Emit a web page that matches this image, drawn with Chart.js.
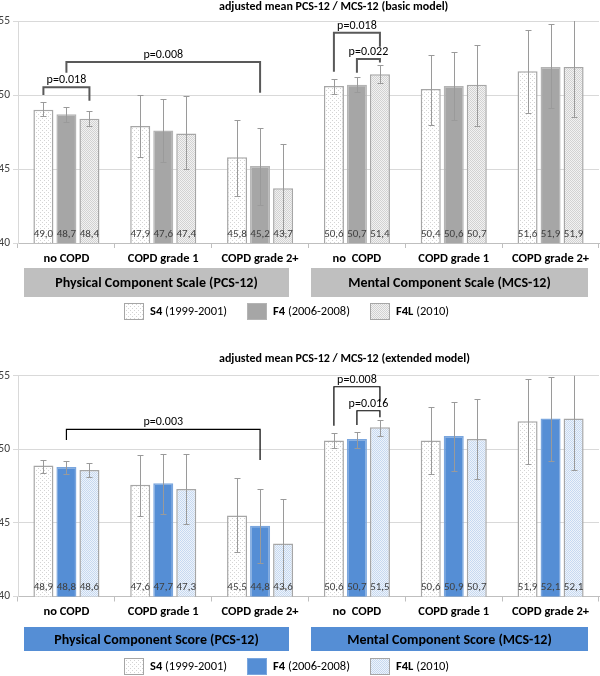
<!DOCTYPE html>
<html>
<head>
<meta charset="utf-8">
<script src="https://cdn.jsdelivr.net/npm/chart.js@4.4.0/dist/chart.umd.min.js"></script>
<style>
    html, body { margin:0; padding:0; background:#fff; }
    #wrap { position:relative; width:600px; height:676px; }
    .panel { position:absolute; left:0; width:600px; }
    #p1 { top:0; height:330px; }
    #p2 { top:330px; height:346px; }
</style>
</head>
<body>
<div id="wrap">
    <div class="panel" id="p1"><canvas id="cnv-basic" width="600" height="330"></canvas></div>
    <div class="panel" id="p2"><canvas id="cnv-extended" width="600" height="346"></canvas></div>
</div>
<script>
//--------------------------------------
// Data
//--------------------------------------
var categories = ['no COPD', 'COPD grade 1', 'COPD grade 2+', 'no  COPD', 'COPD grade 1', 'COPD grade 2+'];
var seriesNames = ['S4', 'F4', 'F4L'];
var seriesYears = ['(1999-2001)', '(2006-2008)', '(2010)'];
var yTicks = [40, 45, 50, 55];

// basic model
var s4Basic  = [49.0, 47.9, 45.8, 50.6, 50.4, 51.6];
var f4Basic  = [48.7, 47.6, 45.2, 50.7, 50.6, 51.9];
var f4lBasic = [48.4, 47.4, 43.7, 51.4, 50.7, 51.9];
var s4BasicLo  = [48.6, 45.8, 43.2, 50.1, 48.0, 48.8];
var s4BasicHi  = [49.5, 50.0, 48.3, 51.1, 52.7, 54.4];
var f4BasicLo  = [48.2, 45.5, 42.6, 50.2, 48.3, 49.1];
var f4BasicHi  = [49.2, 49.7, 47.8, 51.2, 52.9, 54.8];
var f4lBasicLo = [47.9, 45.0, 40.7, 50.8, 47.9, 48.5];
var f4lBasicHi = [48.9, 49.9, 46.7, 52.0, 53.4, 55.3];

// extended model
var s4Ext  = [48.9, 47.6, 45.5, 50.6, 50.6, 51.9];
var f4Ext  = [48.8, 47.7, 44.8, 50.7, 50.9, 52.1];
var f4lExt = [48.6, 47.3, 43.6, 51.5, 50.7, 52.1];
var s4ExtLo  = [48.4, 45.5, 43.0, 50.1, 48.3, 49.0];
var s4ExtHi  = [49.3, 49.6, 48.05, 51.1, 52.9, 54.8];
var f4ExtLo  = [48.3, 45.6, 42.25, 50.1, 48.5, 49.2];
var f4ExtHi  = [49.2, 49.7, 47.3, 51.2, 53.2, 54.9];
var f4lExtLo = [48.1, 44.9, 40.6, 50.9, 48.0, 48.6];
var f4lExtHi = [49.1, 49.7, 46.6, 52.0, 53.4, 55.6];

// significance brackets: [category, series] ends, heights in score units
var bracketsBasic = [
    {from:[0, 0], to:[0, 2], top:50.52, left:50.0, right:49.61, label:'p=0.018'},
    {from:[0, 1], to:[2, 1], top:52.23, left:51.5, right:50.16, label:'p=0.008'},
    {from:[3, 0], to:[3, 2], top:54.2, left:51.57, right:53.26, label:'p=0.018'},
    {from:[3, 1], to:[3, 2], top:52.43, left:51.5, right:52.2, label:'p=0.022'}
];
var bracketsExt = [
    {from:[0, 1], to:[2, 1], top:51.36, left:50.63, right:49.27, label:'p=0.003'},
    {from:[3, 0], to:[3, 2], top:54.25, left:51.6, right:53.23, label:'p=0.008'},
    {from:[3, 1], to:[3, 2], top:52.62, left:51.65, right:52.17, label:'p=0.016'}
];

(function(win){
    var FONT = 'Carlito, Lato, sans-serif';

    var init = function(){
        Chart.defaults.font.family = FONT;

        setChartBasic();
        setChartExtended();
    };

    //--------------------------------------
    // Patterns
    //--------------------------------------
    var makePattern = function(size, bg, dots){
        var c = document.createElement('canvas');
        c.width = size; c.height = size;
        var cx = c.getContext('2d');
        cx.fillStyle = bg;
        cx.fillRect(0, 0, size, size);
        dots.forEach(function(d){
            cx.fillStyle = d[2];
            cx.fillRect(d[0], d[1], 1, 1);
        });
        return cx.createPattern(c, 'repeat');
    };

    //--------------------------------------
    // Plugin: error bars, values, brackets, boxes, legend
    //--------------------------------------
    var annotPlugin = {
        id: 'annot',
        afterDatasetsDraw: function(chart, args, opts){
            drawErrorBars(chart, opts.lo, opts.hi);
            drawValues(chart);
            drawBrackets(chart, opts.brackets, opts.bracketColor, opts.bracketWidth);
        },
        afterDraw: function(chart, args, opts){
            var ctx = chart.ctx;
            ctx.save();
            ctx.fillStyle = '#000';
            ctx.font = 'bold 12px ' + FONT;
            ctx.textAlign = 'left';
            ctx.textBaseline = 'middle';
            ctx.fillText(opts.title, 219, opts.titleY);

            //group boxes
            opts.groups.forEach(function(g){
                ctx.fillStyle = opts.boxColor;
                ctx.fillRect(g.x, opts.boxY, g.w, opts.boxH);
                ctx.fillStyle = '#000';
                ctx.font = 'bold 14px ' + FONT;
                ctx.textAlign = 'center';
                ctx.fillText(g.label, g.x + g.w / 2, opts.boxY + opts.boxH / 2 + 1);
            });

            //legend
            var xs = [124, 247, 370];
            chart.data.datasets.forEach(function(ds, i){
                var x = xs[i], y = opts.legendY;
                ctx.fillStyle = ds.backgroundColor;
                ctx.fillRect(x, y, 20, 17);
                ctx.strokeStyle = ds.borderColor;
                ctx.lineWidth = 1;
                ctx.strokeRect(x + 0.5, y + 0.5, 19, 16);
                ctx.textAlign = 'left';
                ctx.fillStyle = '#000';
                ctx.font = 'bold 12.5px ' + FONT;
                ctx.fillText(seriesNames[i], x + 26, y + 9);
                var w = ctx.measureText(seriesNames[i] + ' ').width;
                ctx.font = '12.5px ' + FONT;
                ctx.fillText(seriesYears[i], x + 26 + w, y + 9);
            });
            ctx.restore();
        }
    };

    var drawErrorBars = function(chart, lo, hi){
        var ctx = chart.ctx;
        var yScale = chart.scales.y;
        var area = chart.chartArea;
        ctx.save();
        ctx.beginPath();
        ctx.rect(area.left, area.top, area.right - area.left, area.bottom - area.top);
        ctx.clip();
        ctx.strokeStyle = '#9a9a9a';
        ctx.lineWidth = 1;
        chart.data.datasets.forEach(function(ds, i){
            chart.getDatasetMeta(i).data.forEach(function(bar, j){
                var x = Math.round(bar.x) + 0.5;
                var y1 = Math.round(yScale.getPixelForValue(lo[i][j])) + 0.5;
                var y2 = Math.round(yScale.getPixelForValue(hi[i][j])) + 0.5;
                ctx.beginPath();
                ctx.moveTo(x, y1); ctx.lineTo(x, y2);
                ctx.moveTo(x - 3, y1); ctx.lineTo(x + 3, y1);
                ctx.moveTo(x - 3, y2); ctx.lineTo(x + 3, y2);
                ctx.stroke();
            });
        });
        ctx.restore();
    };

    var drawValues = function(chart){
        var ctx = chart.ctx;
        var base = chart.scales.y.getPixelForValue(40);
        ctx.save();
        ctx.font = '11px ' + FONT;
        ctx.fillStyle = '#404040';
        ctx.textAlign = 'center';
        ctx.textBaseline = 'middle';
        chart.data.datasets.forEach(function(ds, i){
            chart.getDatasetMeta(i).data.forEach(function(bar, j){
                var txt = ds.data[j].toFixed(1).replace('.', ',');
                ctx.fillText(txt, bar.x, base - 9);
            });
        });
        ctx.restore();
    };

    var drawBrackets = function(chart, list, color, width){
        var ctx = chart.ctx;
        var yScale = chart.scales.y;
        ctx.save();
        ctx.strokeStyle = color;
        ctx.lineWidth = width;
        ctx.lineCap = 'butt';
        list.forEach(function(b){
            var x1 = chart.getDatasetMeta(b.from[1]).data[b.from[0]].x;
            var x2 = chart.getDatasetMeta(b.to[1]).data[b.to[0]].x;
            var yt = yScale.getPixelForValue(b.top);
            var yl = yScale.getPixelForValue(b.left);
            var yr = yScale.getPixelForValue(b.right);
            ctx.beginPath();
            ctx.moveTo(x1, yl);
            ctx.lineTo(x1, yt);
            ctx.lineTo(x2, yt);
            ctx.lineTo(x2, yr);
            ctx.stroke();
            ctx.fillStyle = '#000';
            ctx.font = '12px ' + FONT;
            ctx.textAlign = 'center';
            ctx.textBaseline = 'middle';
            ctx.fillText(b.label, (x1 + x2) / 2, yt - 7);
        });
        ctx.restore();
    };

    //--------------------------------------
    // Charts
    //--------------------------------------
    var buildConfig = function(sets, colors, annot, padBottom, padTop){
        var data = {
            labels: categories,
            datasets: sets.map(function(vals, i){
                return {
                    label: seriesNames[i],
                    data: vals,
                    backgroundColor: colors[i].bg,
                    borderColor: colors[i].border,
                    borderWidth: 1.5,
                    borderSkipped: false,
                    categoryPercentage: 0.713,
                    barPercentage: 0.87
                };
            })
        };
        return {
            type: 'bar',
            data: data,
            plugins: [annotPlugin],
            options: {
                responsive: false,
                animation: false,
                layout: { padding: { top: padTop, bottom: padBottom, left: 0, right: 1 } },
                plugins: {
                    legend: { display: false },
                    tooltip: { enabled: false },
                    annot: annot
                },
                scales: {
                    x: {
                        offset: true,
                        grid: { offset: true, drawOnChartArea: false, drawTicks: true, tickLength: 5, color: '#bfbfbf' },
                        border: { color: '#bfbfbf' },
                        ticks: { color: '#000', padding: 3, maxRotation: 0, autoSkip: false,
                                 font: { size: 12.5, weight: 'bold' } },
                        afterFit: function(s){ s.height = 30; }
                    },
                    y: {
                        min: yTicks[0],
                        max: yTicks[yTicks.length - 1],
                        afterBuildTicks: function(s){
                            s.ticks = yTicks.map(function(v){ return {value: v}; });
                        },
                        grid: { color: '#d9d9d9', tickLength: 5 },
                        border: { color: '#d9d9d9' },
                        ticks: { color: '#404040', padding: 3, font: { size: 11.5 } },
                        afterFit: function(s){ s.width = 18; }
                    }
                }
            }
        };
    };

    var setChartBasic = function(){
        var colors = [
            { bg: makePattern(4, '#ffffff', [[0, 0, '#d4d4d4'], [2, 2, '#d4d4d4']]), border: '#a6a6a6' },
            { bg: '#a6a6a6', border: '#b4b4b4' },
            { bg: makePattern(2, '#f2f2f2', [[0, 0, '#d2d2d2'], [1, 1, '#d2d2d2']]), border: '#a6a6a6' }
        ];
        var annot = {
            lo: [s4BasicLo, f4BasicLo, f4lBasicLo],
            hi: [s4BasicHi, f4BasicHi, f4lBasicHi],
            brackets: bracketsBasic,
            bracketColor: '#595959',
            bracketWidth: 2,
            title: 'adjusted mean PCS-12 / MCS-12 (basic model)',
            titleY: 7,
            boxColor: '#bfbfbf',
            boxY: 268,
            boxH: 29,
            groups: [
                { x: 24, w: 265, label: 'Physical Component Scale (PCS-12)' },
                { x: 311, w: 277, label: 'Mental Component Scale (MCS-12)' }
            ],
            legendY: 303
        };
        new Chart(document.getElementById('cnv-basic'),
            buildConfig([s4Basic, f4Basic, f4lBasic], colors, annot, 330 - 243 - 30, 21));
    };

    var setChartExtended = function(){
        var colors = [
            { bg: makePattern(4, '#ffffff', [[0, 0, '#d4d4d4'], [2, 2, '#d4d4d4']]), border: '#a6a6a6' },
            { bg: '#558ed5', border: '#7aa6de' },
            { bg: makePattern(2, '#eef3fa', [[0, 0, '#c6d9f1'], [1, 1, '#c6d9f1']]), border: '#a6a6a6' }
        ];
        var annot = {
            lo: [s4ExtLo, f4ExtLo, f4lExtLo],
            hi: [s4ExtHi, f4ExtHi, f4lExtHi],
            brackets: bracketsExt,
            bracketColor: '#000',
            bracketWidth: 1.2,
            title: 'adjusted mean PCS-12 / MCS-12 (extended model)',
            titleY: 29,
            boxColor: '#558ed5',
            boxY: 297,
            boxH: 24,
            groups: [
                { x: 24, w: 265, label: 'Physical Component Score (PCS-12)' },
                { x: 311, w: 277, label: 'Mental Component Score (MCS-12)' }
            ],
            legendY: 328
        };
        new Chart(document.getElementById('cnv-extended'),
            buildConfig([s4Ext, f4Ext, f4lExt], colors, annot, 346 - 266.5 - 30, 45.7));
    };

    init();
})(window);
</script>
</body>
</html>
